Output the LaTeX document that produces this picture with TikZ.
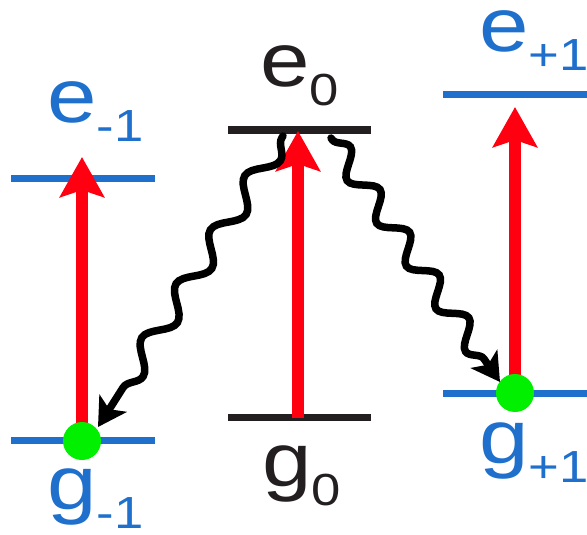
\documentclass[tikz,border=0pt]{standalone}
\usepackage{fontspec}
\setmainfont{Liberation Sans}
\newfontfamily\lab[FakeStretch=1.17]{Liberation Sans}
\usetikzlibrary{arrows.meta,decorations.pathmorphing}
\definecolor{lvlblue}{RGB}{30,112,204}
\definecolor{lvlblack}{RGB}{35,31,32}
\definecolor{pumpred}{RGB}{255,0,16}
\definecolor{dotgreen}{RGB}{0,240,0}
\tikzset{
  bluelevel/.style={draw=lvlblue,line width=7pt},
  blacklevel/.style={draw=lvlblack,line width=7pt},
  pump/.style={draw=pumpred,line width=12pt,-{Stealth[length=40pt,width=44pt,inset=7pt]}},
  decay/.style={draw=black,line width=7.5pt,line cap=round,-{Stealth[length=28pt,width=32pt,inset=7pt]},
    decorate,decoration={snake,amplitude=11pt,segment length=#1,pre length=2pt,post length=20pt}},
  atom/.style={circle,fill=dotgreen,minimum size=38pt,inner sep=0pt},
  bluetext/.style={text=lvlblue,anchor=base west,inner sep=0pt,font=\lab\fontsize{76}{76}\selectfont},
  blacktext/.style={text=lvlblack,anchor=base west,inner sep=0pt,font=\lab\fontsize{76}{76}\selectfont}
}
\newcommand{\subx}[1]{\raisebox{-19pt}{\fontsize{45}{45}\selectfont #1}}
\begin{document}
\begin{tikzpicture}[x=1pt,y=-1pt]
\useasboundingbox (0,0) rectangle (587,535);
% level end points
\coordinate (em1L) at (11,178); \coordinate (em1R) at (155,178);
\coordinate (gm1L) at (11,440); \coordinate (gm1R) at (155,440);
\coordinate (e0L) at (228,130); \coordinate (e0R) at (371,130);
\coordinate (g0L) at (228,417); \coordinate (g0R) at (371,417);
\coordinate (ep1L) at (443,95); \coordinate (ep1R) at (587,95);
\coordinate (gp1L) at (443,393); \coordinate (gp1R) at (587,393);
% levels
\draw[bluelevel] (em1L) -- (em1R);
\draw[bluelevel] (gm1L) -- (gm1R);
\draw[blacklevel] (e0L) -- (e0R);
\draw[blacklevel] (g0L) -- (g0R);
\draw[bluelevel] (ep1L) -- (ep1R);
\draw[bluelevel] (gp1L) -- (gp1R);
% pump arrows
\coordinate (pLs) at (82,440); \coordinate (pLe) at (82,157);
\coordinate (pCs) at (298,418); \coordinate (pCe) at (298,131);
\coordinate (pRs) at (515,393); \coordinate (pRe) at (515,107);
\draw[pump] (pLs) -- (pLe);
\draw[pump] (pCs) -- (pCe);
\draw[pump] (pRs) -- (pRe);
% atoms
\node[atom] (atomL) at (82,441) {};
\node[atom] (atomR) at (515,393) {};
% decay
\coordinate (dLs) at (283,136); \coordinate (dLe) at (98,427);
\coordinate (dRs) at (331,138); \coordinate (dRe) at (500,382);
\draw[decay=64pt] (dLs) -- (dLe);
\draw[decay=52pt] (dRs) -- (dRe);
% labels
\node[bluetext] (lem1) at (47,123) {e\subx{-1}};
\node[bluetext] (lgm1) at (47,509) {g\subx{-1}};
\node[blacktext] (le0) at (260,87) {e\subx{0}};
\node[blacktext] (lg0) at (262,486) {g\subx{0}};
\node[bluetext] (lep1) at (479,52) {e\subx{+1}};
\node[bluetext] (lgp1) at (479,463) {g\subx{+1}};
\end{tikzpicture}
\end{document}
